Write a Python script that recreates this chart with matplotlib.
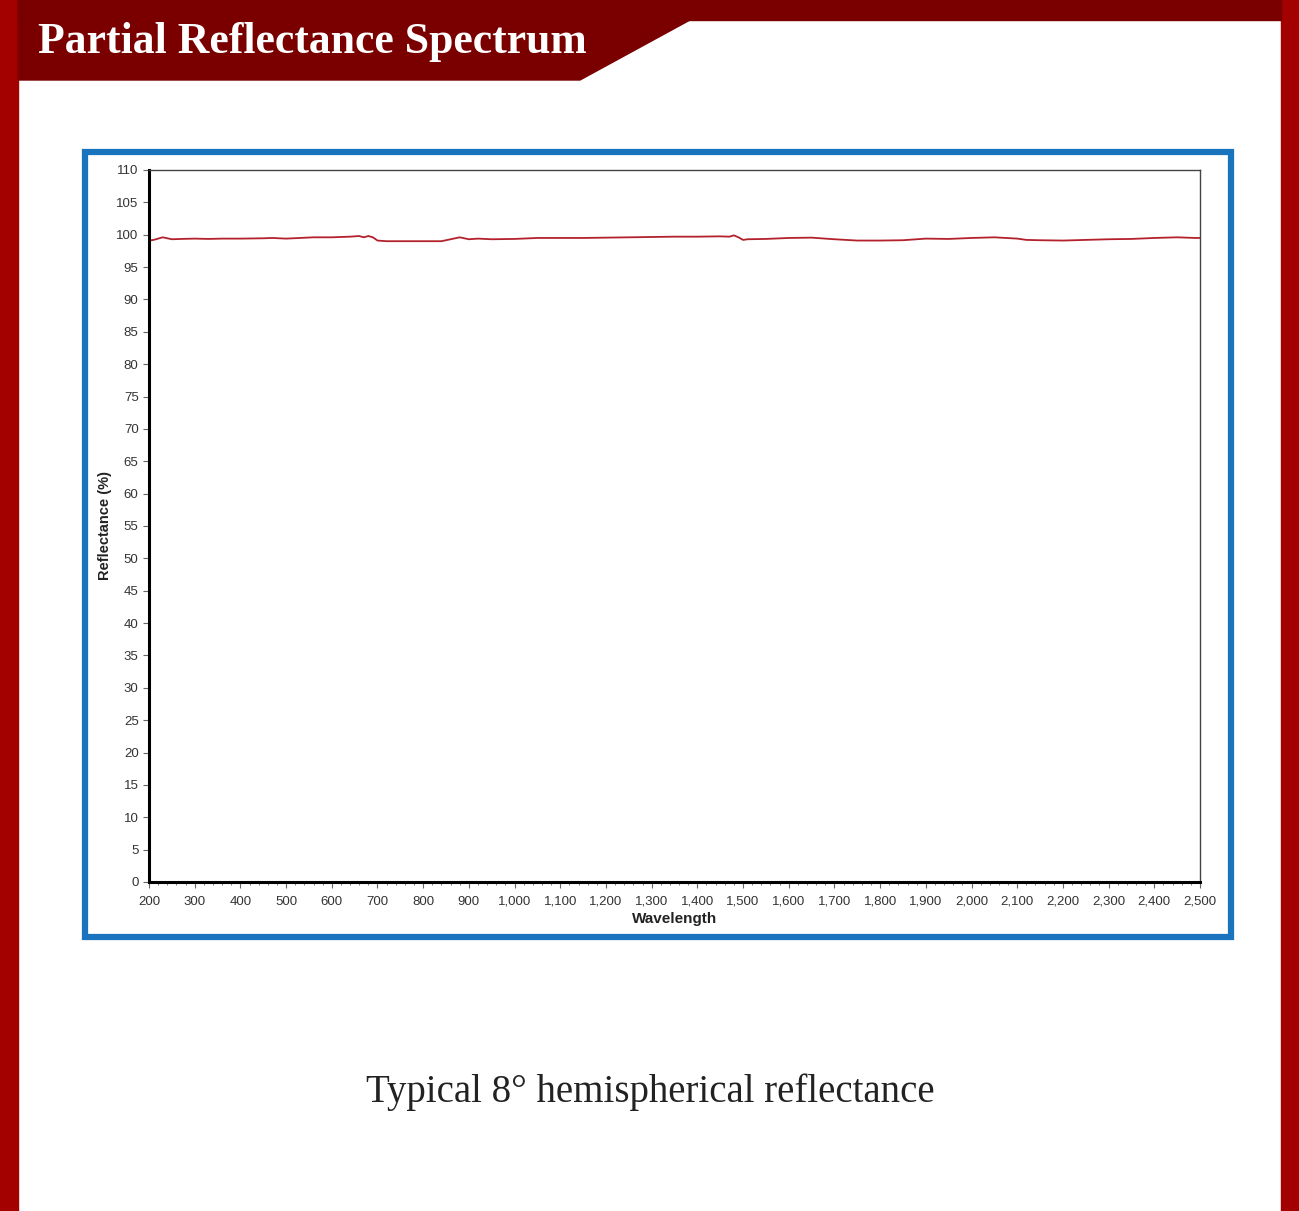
import numpy as np
import matplotlib.pyplot as plt
from matplotlib.patches import Polygon, Rectangle
from matplotlib.ticker import MultipleLocator, FuncFormatter

# reflectance (nm, %)
wavelength = [200, 210, 230, 250, 270, 300, 330, 360, 400, 450, 470, 500, 530, 560,
              600, 640, 660, 670, 680, 690, 700, 720, 760, 800, 840, 860, 880, 900,
              920, 950, 1000, 1050, 1100, 1150, 1200, 1250, 1300, 1350, 1400, 1450,
              1470, 1480, 1490, 1500, 1510, 1550, 1600, 1650, 1700, 1750, 1800, 1850,
              1900, 1950, 2000, 2050, 2100, 2120, 2150, 2200, 2250, 2300, 2350, 2400,
              2450, 2490, 2500]
reflectance = [99.1, 99.2, 99.6, 99.3, 99.35, 99.4, 99.35, 99.4, 99.4, 99.45, 99.5, 99.4,
               99.5, 99.6, 99.6, 99.7, 99.8, 99.6, 99.8, 99.6, 99.1, 99.0, 99.0, 99.0,
               99.0, 99.3, 99.6, 99.3, 99.4, 99.3, 99.35, 99.5, 99.5, 99.5, 99.55, 99.6,
               99.65, 99.7, 99.7, 99.75, 99.7, 99.9, 99.6, 99.2, 99.3, 99.35, 99.5, 99.55,
               99.3, 99.1, 99.1, 99.15, 99.4, 99.35, 99.5, 99.6, 99.4, 99.2, 99.15, 99.1,
               99.2, 99.3, 99.35, 99.5, 99.6, 99.5, 99.5]

title = 'Partial Reflectance Spectrum'
caption = 'Typical 8\u00b0 hemispherical reflectance'

plt.rcParams['font.family'] = ['Liberation Sans', 'DejaVu Sans']

W, H = 1299, 1211
fig = plt.figure(figsize=(W / 100, H / 100), dpi=100)

# background decorations in pixel coords
bg = fig.add_axes([0, 0, 1, 1])
bg.set_xlim(0, W)
bg.set_ylim(H, 0)
bg.axis('off')
bg.add_patch(Rectangle((0, 0), 18, H, color='#a30000'))
bg.add_patch(Rectangle((1281, 0), 18, H, color='#a30000'))
bg.add_patch(Rectangle((18, 0), 1263, 20, color='#7a0000'))
bg.add_patch(Polygon([(18, 0), (700, 0), (690, 20), (580, 80), (18, 80)],
                     closed=True, color='#7a0000'))
bg.text(38, 42, title, color='white', fontsize=31.5, fontweight='bold',
        family='Liberation Serif', va='center', ha='left')
bg.add_patch(Rectangle((85, 152), 1146, 785, fill=False, edgecolor='#1a73bd', linewidth=4.5))
bg.text(650, 1092, caption, color='#222222', fontsize=28,
        family='Liberation Serif', va='center', ha='center')

# plot
ax = fig.add_axes([149 / W, 1 - 882 / H, (1200 - 149) / W, (882 - 170) / H])
ax.plot(wavelength, reflectance, color='#b3222c', linewidth=1.3)
ax.set_xlim(200, 2500)
ax.set_ylim(0, 110)
ax.xaxis.set_major_locator(MultipleLocator(100))
ax.xaxis.set_minor_locator(MultipleLocator(20))
ax.yaxis.set_major_locator(MultipleLocator(5))
ax.xaxis.set_major_formatter(FuncFormatter(lambda v, p: f'{int(v):,}'))

for side in ['left', 'bottom']:
    ax.spines[side].set_linewidth(2.2)
    ax.spines[side].set_color('black')
for side in ['top', 'right']:
    ax.spines[side].set_linewidth(1.0)
    ax.spines[side].set_color('#444444')

ax.tick_params(axis='both', which='major', labelsize=9.5, labelcolor='#333333',
               length=4, width=0.8, color='#666666')
ax.tick_params(axis='x', which='major', pad=6)
ax.tick_params(axis='x', which='minor', length=2.5, width=0.6, color='#666666')
ax.set_xlabel('Wavelength', fontsize=11, fontweight='bold', labelpad=3, color='#222222')
ax.set_ylabel('Reflectance (%)', fontsize=10.5, fontweight='bold', labelpad=3, color='#222222')

fig.savefig('out.png', dpi=100)
